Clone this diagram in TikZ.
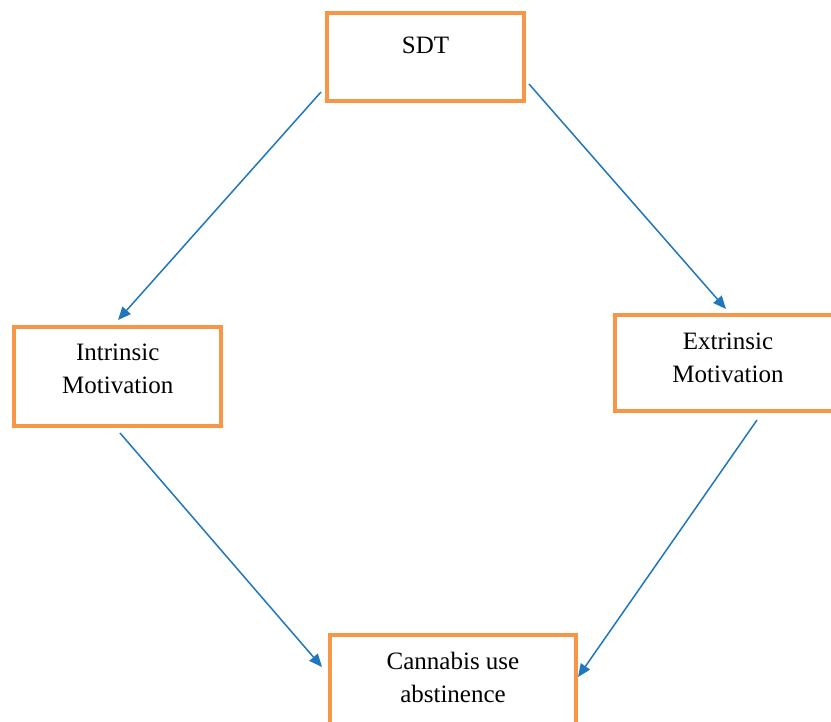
\documentclass[tikz,border=0pt]{standalone}
\usepackage{fontspec}
\setmainfont{Liberation Serif}
\usetikzlibrary{arrows.meta}
\definecolor{boxorange}{RGB}{247,150,70}
\definecolor{arrowblue}{RGB}{31,119,190}
\tikzset{
  box/.style={draw=boxorange, line width=4bp, fill=white, inner sep=0pt, anchor=base,
    font=\fontsize{25bp}{33bp}\selectfont},
  conn/.style={draw=arrowblue, line width=1.5bp, -{Triangle[length=13bp,width=11bp]}}
}
\newcommand{\twolines}[2]{\begin{tabular}[t]{@{}c@{}}#1\\#2\end{tabular}}
\begin{document}
\begin{tikzpicture}[x=1bp,y=-1bp]
\clip (0,0) rectangle (831,722);
\fill[white] (0,0) rectangle (831,722);
\node[box, minimum width=197bp, text height=41bp, text depth=47bp] (sdt) at (425.5,54) {SDT};
\node[box, minimum width=206.5bp, text height=33.5bp, text depth=66bp] (intr) at (117.75,360) {\twolines{Intrinsic}{Motivation}};
\node[box, minimum width=226bp, text height=34bp, text depth=62bp] (extr) at (728,349) {\twolines{Extrinsic}{Motivation}};
\node[box, minimum width=246bp, text height=34bp, text depth=66bp] (cann) at (453,669) {\twolines{Cannabis use}{abstinence}};
\coordinate (a1s) at (321,92);
\coordinate (a1e) at (118,320);
\coordinate (a2s) at (529,84);
\coordinate (a2e) at (726,309);
\coordinate (a3s) at (120,433);
\coordinate (a3e) at (322,667);
\coordinate (a4s) at (757,420);
\coordinate (a4e) at (578,677);
\draw[conn] (a1s) -- (a1e);
\draw[conn] (a2s) -- (a2e);
\draw[conn] (a3s) -- (a3e);
\draw[conn] (a4s) -- (a4e);
\end{tikzpicture}
\end{document}
